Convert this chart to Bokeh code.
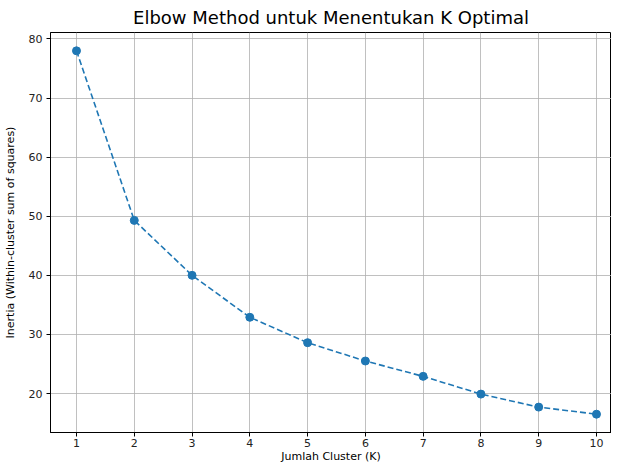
from bokeh.plotting import figure
from bokeh.models import FixedTicker, Range1d
from bokeh.embed import file_html
from bokeh.resources import INLINE

k_values = [1, 2, 3, 4, 5, 6, 7, 8, 9, 10]
inertia = [78.0, 49.3, 40.0, 32.9, 28.6, 25.5, 22.9, 19.9, 17.7, 16.5]
x_ticks = [1, 2, 3, 4, 5, 6, 7, 8, 9, 10]
y_ticks = [20, 30, 40, 50, 60, 70, 80]

FONT = "DejaVu Sans"
BLUE = "#1f77b4"

p = figure(width=611, height=465, output_backend="svg", toolbar_location=None,
           x_range=Range1d(0.55, 10.26), y_range=Range1d(13.4, 81.1),
           title="Elbow Method untuk Menentukan K Optimal",
           min_border_left=0, min_border_right=0, min_border_top=0, min_border_bottom=0)

p.title.align = "center"
p.title.text_font = FONT
p.title.text_font_size = "18px"
p.title.text_font_style = "normal"
p.title.text_color = "#000000"
p.title.standoff = 9

p.line(k_values, inertia, line_color=BLUE, line_width=1.6, line_dash="6 3")
p.scatter(k_values, inertia, size=8, fill_color=BLUE, line_color=BLUE)

p.xaxis.ticker = FixedTicker(ticks=x_ticks)
p.yaxis.ticker = FixedTicker(ticks=y_ticks)
p.xaxis.axis_label = "Jumlah Cluster (K)"
p.yaxis.axis_label = "Inertia (Within-cluster sum of squares)"

for ax in (p.xaxis, p.yaxis):
    ax.axis_label_text_font = FONT
    ax.axis_label_text_font_size = "11px"
    ax.axis_label_text_font_style = "normal"
    ax.axis_label_text_color = "#000000"
    ax.major_label_text_font = FONT
    ax.major_label_text_font_size = "11px"
    ax.major_label_text_color = "#222222"
    ax.axis_line_color = "#000000"
    ax.axis_line_width = 1
    ax.major_tick_line_color = "#000000"
    ax.major_tick_out = 4
    ax.major_tick_in = 0
    ax.minor_tick_line_color = None

p.xaxis.axis_label_standoff = 0
p.xaxis.major_label_standoff = 2
p.yaxis.axis_label_standoff = 9
p.yaxis.major_label_standoff = 4

p.grid.grid_line_color = "#b0b0b0"
p.grid.grid_line_width = 0.8
p.outline_line_color = "#000000"
p.outline_line_width = 1
p.background_fill_color = "white"
p.border_fill_color = "white"

open("out.html", "w").write(file_html(p, INLINE))
